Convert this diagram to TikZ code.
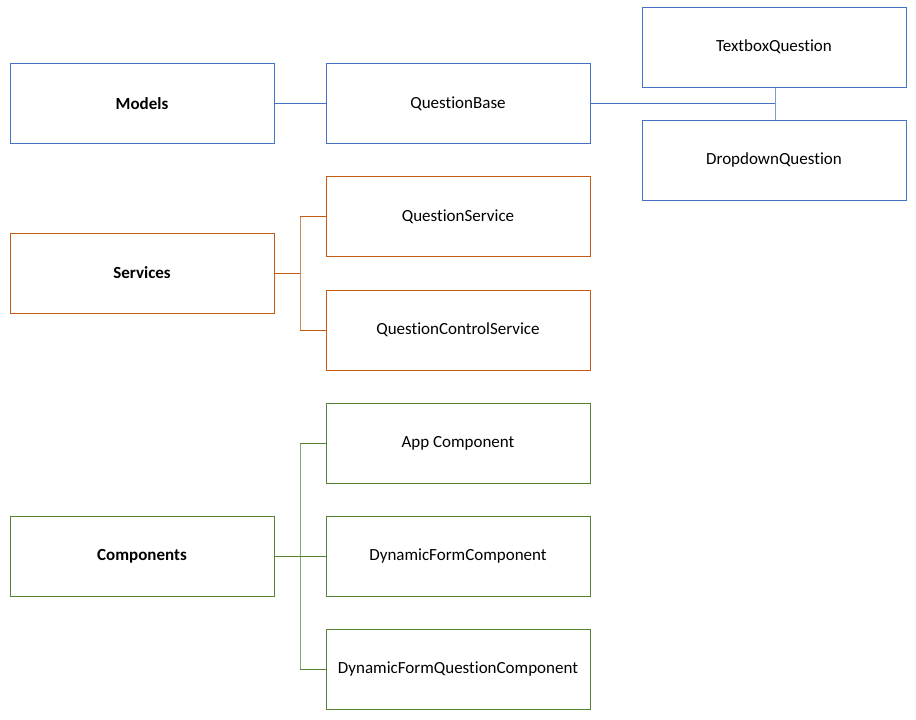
\documentclass[tikz,border=0pt]{standalone}
\usepackage{fontspec}
\setmainfont{Carlito}[Ligatures={NoCommon}]
\definecolor{mblue}{HTML}{4472C4}
\definecolor{sorange}{HTML}{C55A11}
\definecolor{cgreen}{HTML}{548235}
\begin{document}
\begin{tikzpicture}[x=1pt,y=-1pt,
  box/.style={draw,line width=1pt,minimum width=264pt,minimum height=80pt,inner sep=0pt,
    font=\fontsize{17}{20}\selectfont,text=black},
  head/.style={box,font=\fontsize{17}{20}\selectfont\bfseries},
  link/.style={line width=1pt}]
\useasboundingbox (0,0) rectangle (916,720);
% Models
\begin{scope}[mblue]
\node[head] (models) at (142,103.5) {Models};
\node[box] (qbase) at (458,103.5) {QuestionBase};
\node[box] (textbox) at (774,47) {TextboxQuestion};
\node[box] (dropdown) at (774,160) {DropdownQuestion};
\draw[link] (models.east) -- (qbase.west);
\coordinate (mj) at (775,103.5);
\draw[link] (qbase.east) -- (mj);
\draw[link,mblue!70] (textbox.south -| mj) -- (dropdown.north -| mj);
\end{scope}
% Services
\begin{scope}[sorange]
\node[head] (services) at (142,273) {Services};
\node[box] (qservice) at (458,216.5) {QuestionService};
\node[box] (qcontrol) at (458,330) {QuestionControlService};
\coordinate (sj) at (300,273);
\draw[link] (services.east) -- (sj);
\draw[link,sorange!70] (sj |- qservice.west) -- (sj |- qcontrol.west);
\draw[link] (sj |- qservice.west) -- (qservice.west);
\draw[link] (sj |- qcontrol.west) -- (qcontrol.west);
\end{scope}
% Components
\begin{scope}[cgreen]
\node[head] (components) at (142,556) {Components};
\node[box] (app) at (458,443) {App Component};
\node[box] (dform) at (458,556) {DynamicFormComponent};
\node[box] (dfq) at (458,669.5) {DynamicFormQuestionComponent};
\coordinate (cj) at (300,556);
\draw[link] (components.east) -- (cj);
\draw[link,cgreen!70] (cj |- app.west) -- (cj |- dfq.west);
\draw[link] (cj |- app.west) -- (app.west);
\draw[link] (cj) -- (dform.west);
\draw[link] (cj |- dfq.west) -- (dfq.west);
\end{scope}
\end{tikzpicture}
\end{document}
